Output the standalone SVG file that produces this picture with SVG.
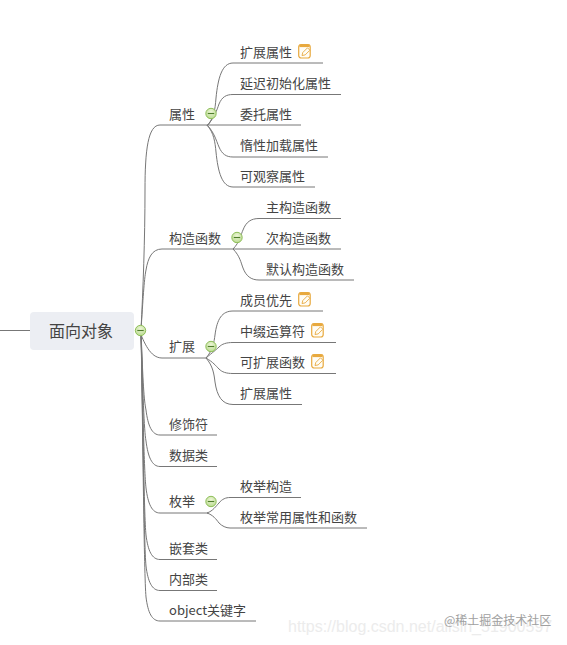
<svg xmlns="http://www.w3.org/2000/svg" width="567" height="645" viewBox="0 0 567 645">
<style>
text{font-family:"Noto Sans CJK SC","Liberation Sans",sans-serif;font-size:13px;fill:#444}
.c{fill:none;stroke:#777;stroke-width:1}
</style>
<defs>
<radialGradient id="gr" cx="0.5" cy="0.35" r="0.7"><stop offset="0" stop-color="#eef7d8"/><stop offset="1" stop-color="#b5d88a"/></radialGradient>
<g id="note"><rect x="0.700" y="1" width="11.500" height="13.500" rx="2.500" fill="#fffdf6" stroke="#e8a93e" stroke-width="1.200"/><rect x="1.500" y="1" width="10" height="2.600" fill="#e8a93e"/><path d="M4 12l.8-3 4.700-4.700 2.400 2.400-4.700 4.700z" fill="#fffdf6" stroke="#e8a93e" stroke-width="0.900"/></g>
<g id="col"><circle r="5.200" fill="url(#gr)" stroke="#8fbf5a" stroke-width="1"/><path d="M-3.200 0H3.200" stroke="#4f7d2c" stroke-width="1.100"/></g>
</defs>
<g id="connectors">
<path class="c" d="M0 330.500H30"/>
<g class="c">
<path d="M141 330C143 290 145 240 145 190C145 150 148 125 160 125H208"/>
<path d="M141 330C143 300 144 280 146 270C148 258 152 249 162 249H234"/>
<path d="M139 330C144 342 150 358 162 358H207"/>
<path d="M141 330C143 385 144 400 146 410C148 426 152 435 160 435H217"/>
<path d="M141 330C143 395 144 430 146 441C148 457 152 466.500 160 466.500H217"/>
<path d="M141 330C143 410 144 470 146 488C148 504 152 513 160 513H208"/>
<path d="M141 330C143 420 144 515 146 535C148 551 152 559.500 160 559.500H217"/>
<path d="M141 330C143 430 144 545 146 566C148 582 152 590.500 160 590.500H217"/>
<path d="M141 330C143 440 144 575 146 597C148 613 152 621 160 621H256"/>
<path d="M207 126C214 118 215 110 216 98C218 78 222 63 233 63H323"/>
<path d="M207 126C214 118 217 110 219 104C222 97 226 94.500 233 94.500H341"/>
<path d="M207 125H301"/>
<path d="M207 125C214 132 216 140 219 147C222 154 226 157 233 157H328"/>
<path d="M207 125C214 133 215 142 216 152C218 172 222 187 233 187H315"/>
<path d="M233 249C240 242 241 234 243 230C246 222 251 218.500 259 218.500H341"/>
<path d="M233 249H341"/>
<path d="M233 249C240 256 241 263 243 268C246 276 251 280 259 280H354"/>
<path d="M206 358C213 350 214 342 215 335C217 319 222 311 233 311H323"/>
<path d="M206 358C213 352 216 350 219 347C222 344 226 342.500 233 342.500H336"/>
<path d="M206 358C213 362 216 366 219 369C222 372 226 373.500 233 373.500H336"/>
<path d="M206 358C213 366 214 374 215 382C217 396 222 404.500 233 404.500H302"/>
<path d="M207 513C213 511 216 506 219 503C222 499 226 497.500 230 497.500H301"/>
<path d="M207 513C213 515 216 519 219 523C222 526 226 528 230 528H367"/>
</g>
</g>
<g id="root"><rect x="30" y="312" width="104" height="38" rx="4" fill="#eceef3"/><text x="49" y="336.500" style="font-size:16px">面向对象</text><use href="#col" x="140.500" y="330.500"/></g>
<g id="n1"><text x="169" y="119">属性</text><use href="#col" x="211" y="113.500"/></g>
<g id="n11"><text x="240" y="57">扩展属性</text><use href="#note" x="298" y="43.500"/></g>
<g id="n12"><text x="240" y="88">延迟初始化属性</text></g>
<g id="n13"><text x="240" y="119">委托属性</text></g>
<g id="n14"><text x="240" y="150">惰性加载属性</text></g>
<g id="n15"><text x="240" y="181">可观察属性</text></g>
<g id="n2"><text x="169" y="243">构造函数</text><use href="#col" x="237" y="237.500"/></g>
<g id="n21"><text x="266" y="212">主构造函数</text></g>
<g id="n22"><text x="266" y="243">次构造函数</text></g>
<g id="n23"><text x="266" y="274">默认构造函数</text></g>
<g id="n3"><text x="169" y="351">扩展</text><use href="#col" x="211" y="346.500"/></g>
<g id="n31"><text x="240" y="305">成员优先</text><use href="#note" x="298" y="291.500"/></g>
<g id="n32"><text x="240" y="336">中缀运算符</text><use href="#note" x="311" y="322.500"/></g>
<g id="n33"><text x="240" y="367">可扩展函数</text><use href="#note" x="311" y="353.500"/></g>
<g id="n34"><text x="240" y="398">扩展属性</text></g>
<g id="n4"><text x="169" y="429">修饰符</text></g>
<g id="n5"><text x="169" y="460">数据类</text></g>
<g id="n6"><text x="169" y="506">枚举</text><use href="#col" x="211" y="501.500"/></g>
<g id="n61"><text x="240" y="491">枚举构造</text></g>
<g id="n62"><text x="240" y="522">枚举常用属性和函数</text></g>
<g id="n7"><text x="169" y="553">嵌套类</text></g>
<g id="n8"><text x="169" y="584">内部类</text></g>
<g id="n9"><text x="169" y="615">object关键字</text></g>
<text x="288" y="632" style="font-size:16px;fill:#ececec;font-family:'Liberation Sans',sans-serif">https://blog.csdn.net/ailsin_51900597</text>
<text x="444" y="625" style="font-size:12px;fill:#a0a0a0">@稀土掘金技术社区</text>
</svg>
